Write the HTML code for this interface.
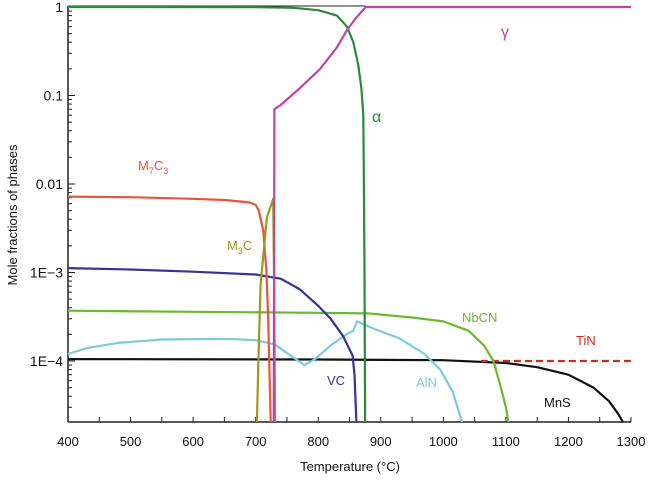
<!DOCTYPE html>
<html><head><meta charset="utf-8"><style>
body{margin:0;background:#fff}
svg text{font-family:"Liberation Sans",Arial,sans-serif}
</style></head><body>
<svg id="c" width="648" height="480"></svg>
<script>
const xTicks=[400,500,600,700,800,900,1000,1100,1200,1300];
const yTickVals=[1,0.1,0.01,0.001,0.0001];
const yTickLabels=["1","0.1","0.01","1E\u22123","1E\u22124"];
const gamma=[[729,2e-5],[730,0.07],[740,0.078],[770,0.12],[803,0.2],[830,0.35],[846,0.55],[860,0.75],[876,1],[1300,1]];
const alpha=[[400,1],[700,0.995],[760,0.98],[800,0.92],[830,0.8],[846,0.6],[856,0.4],[864,0.22],[869,0.12],[872,0.06],[873,0.01],[874,1e-3],[875,2e-5]];
const m7c3=[[400,0.0072],[500,0.0071],[600,0.0068],[650,0.0066],[690,0.0062],[700,0.0058],[705,0.005],[712,0.003],[717,1.1e-3],[720,3e-4],[722,8e-5],[724,2e-5]];
const m3c=[[702,2e-5],[705,1.5e-4],[708,7.6e-4],[718,0.0042],[728,0.0068],[729.5,8e-4],[731,2e-5]];
const vc=[[400,1.12e-3],[500,1.08e-3],[600,1.02e-3],[700,9.5e-4],[740,8.5e-4],[770,6.5e-4],[800,4.2e-4],[820,3e-4],[840,1.9e-4],[855,1.15e-4],[858,7e-5],[860,3e-5],[861,2e-5]];
const nbcn=[[400,3.7e-4],[600,3.6e-4],[800,3.5e-4],[880,3.45e-4],[950,3.1e-4],[1000,2.8e-4],[1040,2.2e-4],[1065,1.5e-4],[1080,1e-4],[1092,5e-5],[1100,3e-5],[1104,2e-5]];
const aln=[[400,1.2e-4],[430,1.4e-4],[480,1.6e-4],[550,1.75e-4],[650,1.78e-4],[700,1.72e-4],[730,1.55e-4],[760,1.1e-4],[778,9e-5],[795,1.05e-4],[820,1.5e-4],[845,2.0e-4],[856,2.2e-4],[862,2.8e-4],[890,2.3e-4],[930,1.8e-4],[970,1.2e-4],[995,8e-5],[1015,4.5e-5],[1030,2e-5]];
const mns=[[400,1.05e-4],[800,1.04e-4],[1000,1.02e-4],[1100,9.5e-5],[1150,8.5e-5],[1200,7e-5],[1240,5e-5],[1265,3.5e-5],[1280,2.5e-5],[1287,2e-5]];
const tin=[[1060,1e-4],[1300,1e-4]];

const X0=68,X1=631,Y1=7,DEC=88.5,YB=422;
const sx=t=>X0+(t-400)*(X1-X0)/900;
const sy=v=>{const y=Y1-Math.log10(v)*DEC;return Math.min(y,YB);};
const svg=document.getElementById('c');
const NS='http://www.w3.org/2000/svg';
function mk(tag,attrs,parent){const e=document.createElementNS(NS,tag);for(const k in attrs)e.setAttribute(k,attrs[k]);(parent||svg).appendChild(e);return e;}
function txt(x,y,s,attrs){const e=mk('text',Object.assign({x:x,y:y},attrs));e.textContent=s;return e;}

const ax=mk('g',{});


mk('line',{x1:X0,y1:Y1-1,x2:X0,y2:YB,stroke:'#222','stroke-width':1.5},ax);
mk('line',{x1:X0,y1:YB,x2:X1,y2:YB,stroke:'#222','stroke-width':1.5},ax);
mk('line',{x1:X0,y1:Y1-1,x2:sx(876),y2:Y1-1,stroke:'#222','stroke-width':1},ax);
for(let t=400;t<=1300;t+=50){mk('line',{x1:sx(t),y1:YB,x2:sx(t),y2:YB-5,stroke:'#222'},ax);}
xTicks.forEach(t=>{const e=txt(sx(t),446,String(t),{'text-anchor':'middle','font-size':13,fill:'#111'});

});
for(let d=0;d>=-5;d--){for(let m=1;m<10;m++){const v=m*Math.pow(10,d);if(v>1)continue;const y=Y1-Math.log10(v)*DEC;if(y>YB)continue;
mk('line',{x1:X0,y1:y,x2:X0+(m===1?7:4),y2:y,stroke:'#222'},ax);}}
yTickVals.forEach((v,i)=>{const e=txt(X0-5,sy(v)+5,yTickLabels[i],{'text-anchor':'end','font-size':14,fill:'#111'});

});
const xt=txt(350,471,'Temperature (\u00B0C)',{'text-anchor':'middle','font-size':13,fill:'#111'});


const yt=txt(0,0,'Mole fractions of phases',{'text-anchor':'middle','font-size':13,fill:'#111',transform:'translate(17,215) rotate(-90)'});



function line(data,color,name,dash){const d=data.map((p,i)=>(i?'L':'M')+sx(p[0]).toFixed(1)+','+sy(p[1]).toFixed(1)).join(' ');
const a={d:d,fill:'none',stroke:color,'stroke-width':2.2,'stroke-linejoin':'round'};if(dash)a['stroke-dasharray']=dash;
const e=mk('path',a);

}
line(mns,'#111','mns-line');
line(tin,'#d42a1e','tin-line','7,4');
line(aln,'#7ccbd9','aln-line');
line(nbcn,'#6cb82e','nbcn-line');
line(vc,'#34349a','vc-line');
line(m7c3,'#e8553a','m7c3-line');
line(m3c,'#9a9a1c','m3c-line');
line(alpha,'#2a8a3c','alpha-line');
line(gamma,'#c342a3','gamma-line');

function lab(x,y,html,color,name,fs){const e=mk('text',{x:x,y:y,'font-size':fs||13,fill:color});e.innerHTML=html;

}
lab(138,170,'M<tspan font-size="9" dy="4">7</tspan><tspan dy="-4">C</tspan><tspan font-size="9" dy="4">3</tspan>','#e8553a','m7c3-label');
lab(227,250,'M<tspan font-size="9" dy="4">3</tspan><tspan dy="-4">C</tspan>','#9a9a1c','m3c-label');
lab(327,385,'VC','#34349a','vc-label');
lab(416,387,'AlN','#7ccbd9','aln-label');
lab(462,322,'NbCN','#6cb82e','nbcn-label');
lab(576,345,'TiN','#d42a1e','tin-label');
lab(544,407,'MnS','#111','mns-label');
lab(372,122,'\u03B1','#2a8a3c','alpha-label',16);
lab(501,37,'\u03B3','#c342a3','gamma-label',16);
</script>
</body></html>
